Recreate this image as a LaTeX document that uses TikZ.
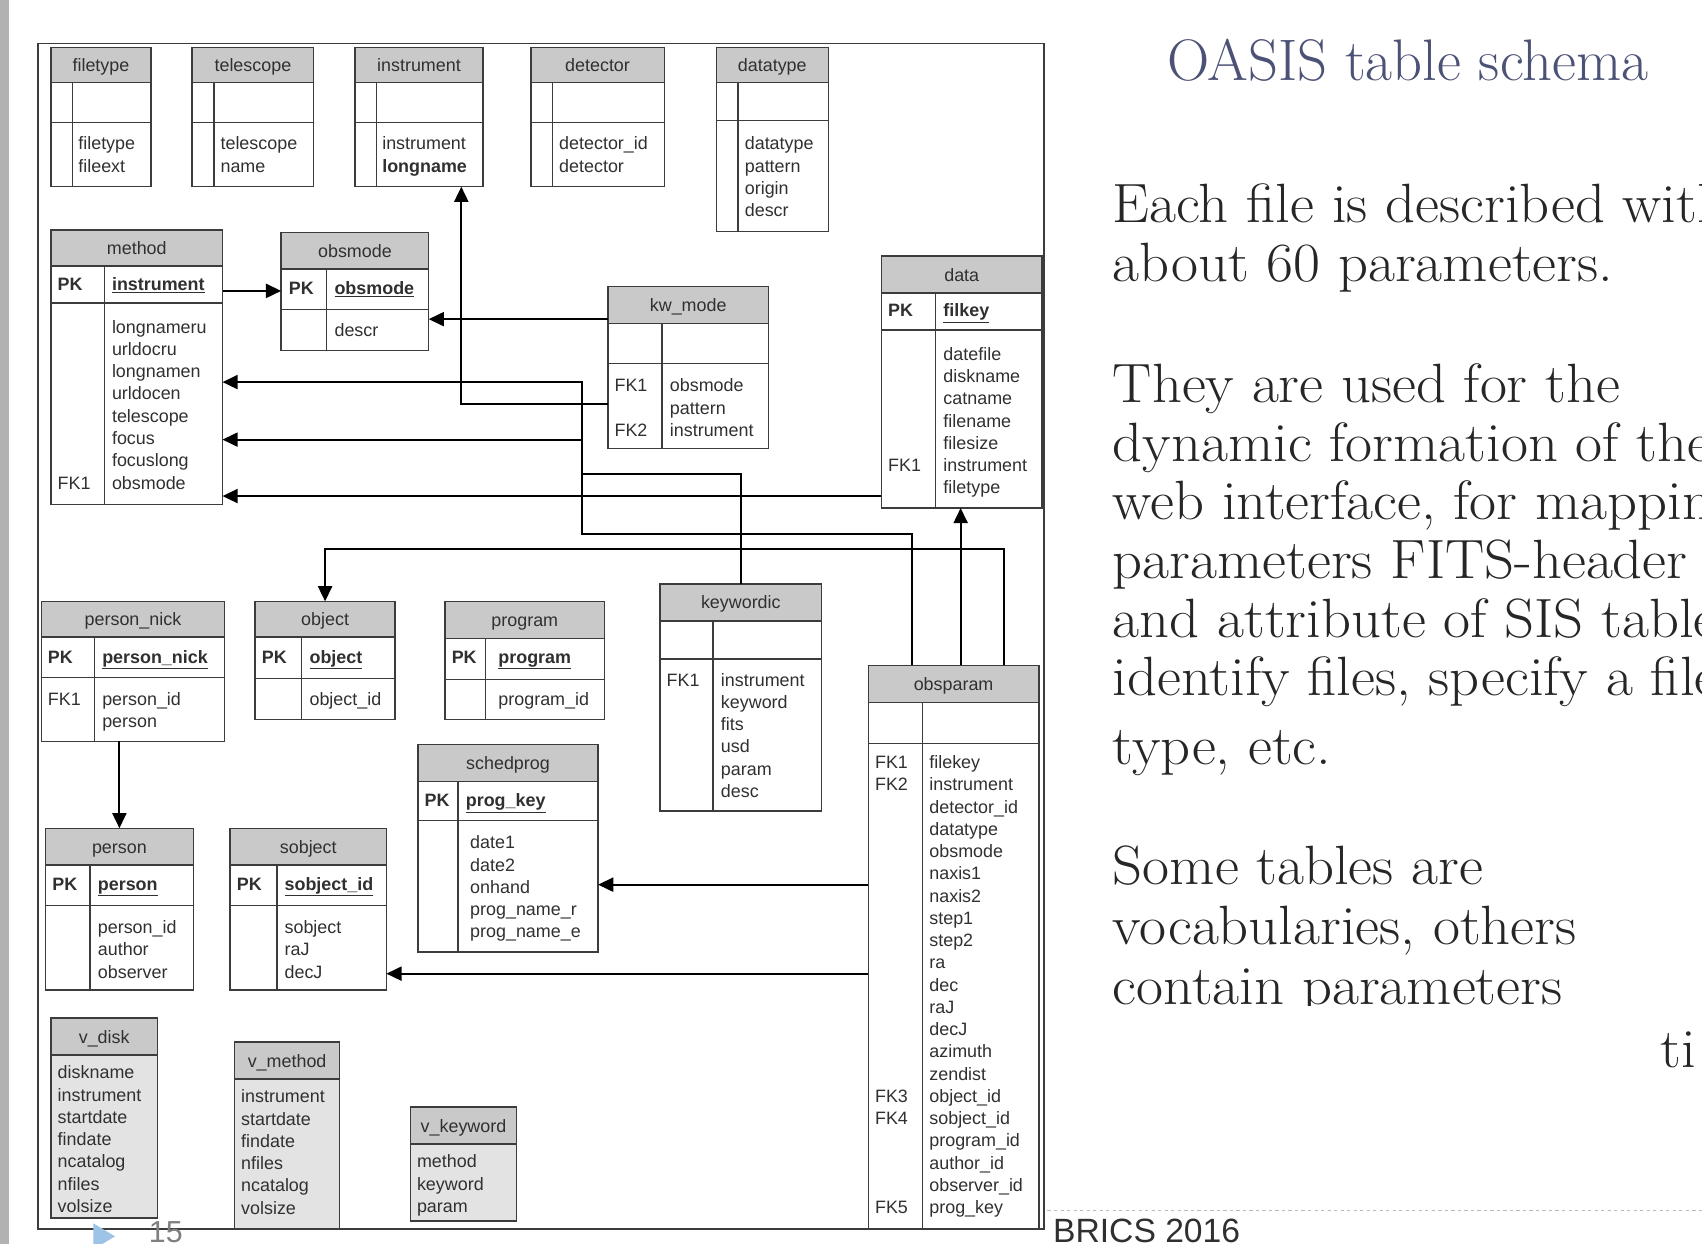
\documentclass[tikz,border=0pt]{standalone}
\usepackage{fontspec}
\newfontfamily\tabfont{Liberation Sans}
\usetikzlibrary{arrows.meta}
\definecolor{hdrgray}{HTML}{C9C9C9}
\definecolor{viewgray}{HTML}{E3E3E3}
\definecolor{linegray}{HTML}{3C3C3C}
\definecolor{txtgray}{HTML}{303030}
\definecolor{titleblue}{HTML}{4B5275}
\definecolor{tricol}{HTML}{9DC3E6}
\tikzset{
 tbl/.style={draw=linegray, line width=1.3pt, inner sep=0pt, outer sep=0pt},
 rowline/.style={draw=linegray, line width=1.3pt},
 ttl/.style={font=\tabfont\fontsize{16.5}{19}\selectfont, text=txtgray, inner sep=0pt, anchor=base},
 fld/.style={font=\tabfont\fontsize{16.5}{19}\selectfont, text=txtgray, inner sep=0pt, anchor=base west},
 keyb/.style={fld, font=\tabfont\bfseries\fontsize{16.5}{19}\selectfont},
 conn/.style={draw=black, line width=1.8pt},
 arr/.style={conn, -{Triangle[length=14pt,width=13pt]}},
 bodytext/.style={font=\fontsize{51}{54}\selectfont, inner sep=0pt, anchor=base west, text=black!85},
}
\newcommand\wide[1]{\scalebox{1.06}[1]{#1}}
% name, x1, y1, x2, y2, header bottom, key row bottom, divider x, title
\newcommand\ertab[9]{%
 \fill[hdrgray] (#2,#3) rectangle (#4,#6);
 \node[tbl, minimum width={(#4-#2)*1pt}, minimum height={(#5-#3)*1pt}] (#1) at ({(#2+#4)/2},{(#3+#5)/2}) {};
 \draw[rowline] (#2,#6) -- (#4,#6) (#2,#7) -- (#4,#7) (#8,#6) -- (#8,#5);
 \node[ttl] (#1-t) at ({(#2+#4)/2},{(#3+#6)/2+6}) {#9};
}
% name, x1, y1, x2, y2, header bottom, title
\newcommand\vwtab[7]{%
 \fill[viewgray] (#2,#6) rectangle (#4,#5);
 \fill[hdrgray] (#2,#3) rectangle (#4,#6);
 \node[tbl, minimum width={(#4-#2)*1pt}, minimum height={(#5-#3)*1pt}] (#1) at ({(#2+#4)/2},{(#3+#5)/2}) {};
 \draw[rowline] (#2,#6) -- (#4,#6);
 \node[ttl] (#1-t) at ({(#2+#4)/2},{(#3+#6)/2+6}) {#7};
}
% name prefix, x, first baseline, list
\newcommand\rows[4]{%
 \foreach \t [count=\i from 0] in {#4} {\node[fld] (#1-\i) at (#2,{#3+\i*20.5}) {\t};}
}
\begin{document}
\begin{tikzpicture}[x=1pt,y=-1pt]
\useasboundingbox (0,0) rectangle (1568,1146);
\fill[white] (0,0) rectangle (1568,1146);
\fill[gray!60] (0,0) rectangle (8,1146);
% frame
\draw[linegray, line width=1.5pt] (35,40) rectangle (962,1132);

% top row
\ertab{filetype}{47}{44}{139}{172}{76}{113}{67}{filetype}
\rows{filetype-f}{72}{138}{filetype,fileext}
\ertab{telescope}{177}{44}{289}{172}{76}{113}{197}{telescope}
\rows{telescope-f}{203}{138}{telescope,name}
\ertab{instrument}{327}{44}{445}{172}{76}{113}{347}{instrument}
\rows{instrument-f}{352}{138}{instrument,\textbf{longname}}
\ertab{detector}{489}{44}{612}{172}{76}{113}{509}{detector}
\rows{detector-f}{515}{138}{detector\_id,detector}
\ertab{datatype}{660}{44}{763}{213}{76}{111}{680}{datatype}
\rows{datatype-f}{686}{138}{datatype,pattern,origin,descr}

% method
\ertab{method}{47}{212}{205}{465}{245}{279}{96}{method}
\node[keyb] (method-pk) at (53,268) {PK};
\node[keyb] (method-pkf) at (103,268) {\underline{instrument}};
\rows{method-f}{103}{307}{longnameru,urldocru,longnamen,urldocen,telescope,focus,focuslong,obsmode}
\node[fld] (method-fk1) at (53,451) {FK1};

% obsmode
\ertab{obsmode}{259}{214}{395}{323}{248}{285}{301}{obsmode}
\node[keyb] (obsmode-pk) at (266,271) {PK};
\node[keyb] (obsmode-pkf) at (308,271) {\underline{obsmode}};
\node[fld] (obsmode-f0) at (308,310) {descr};

% kw_mode
\ertab{kwmode}{560}{264}{708}{413}{298}{335}{610}{kw\_mode}
\rows{kwmode-f}{617}{361}{obsmode,pattern,instrument}
\node[fld] (kwmode-fk1) at (566,361) {FK1};
\node[fld] (kwmode-fk2) at (566,402) {FK2};

% data
\ertab{data}{812}{236}{960}{468}{270}{304}{862}{data}
\node[keyb] (data-pk) at (818,292) {PK};
\node[keyb] (data-pkf) at (869,292) {\underline{filkey}};
\rows{data-f}{869}{332}{datefile,diskname,catname,filename,filesize,instrument,filetype}
\node[fld] (data-fk1) at (818,434.5) {FK1};

% person_nick
\ertab{personnick}{38}{554}{207}{683}{587}{624}{87}{person\_nick}
\node[keyb] (personnick-pk) at (44,611) {PK};
\node[keyb] (personnick-pkf) at (94,611) {\underline{person\_nick}};
\rows{personnick-f}{94}{650}{person\_id,person}
\node[fld] (personnick-fk1) at (44,650) {FK1};

% object
\ertab{object}{235}{554}{364}{663}{587}{625}{278}{object}
\node[keyb] (object-pk) at (241,611) {PK};
\node[keyb] (object-pkf) at (285,611) {\underline{object}};
\node[fld] (object-f0) at (285,650) {object\_id};

% program
\ertab{program}{410}{554}{557}{663}{588}{626}{447}{program}
\node[keyb] (program-pk) at (416,611) {PK};
\node[keyb] (program-pkf) at (459,611) {\underline{program}};
\node[fld] (program-f0) at (459,650) {program\_id};

% keywordic
\ertab{keywordic}{608}{538}{757}{747}{572}{607}{657}{keywordic}
\rows{keywordic-f}{664}{632}{instrument,keyword,fits,usd,param,desc}
\node[fld] (keywordic-fk1) at (614,632) {FK1};

% obsparam
\ertab{obsparam}{800}{613}{957}{1132}{647}{685}{850}{obsparam}
\rows{obsparam-f}{856}{708}{filekey,instrument,detector\_id,datatype,obsmode,naxis1,naxis2,step1,step2,ra,dec,raJ,decJ,azimuth,zendist,object\_id,sobject\_id,program\_id,author\_id,observer\_id,prog\_key}
\node[fld] (obsparam-fk1) at (806,708) {FK1};
\node[fld] (obsparam-fk2) at (806,728.5) {FK2};
\node[fld] (obsparam-fk3) at (806,1015.5) {FK3};
\node[fld] (obsparam-fk4) at (806,1036) {FK4};
\node[fld] (obsparam-fk5) at (806,1118) {FK5};

% schedprog
\ertab{schedprog}{385}{686}{551}{877}{720}{756}{422}{schedprog}
\node[keyb] (schedprog-pk) at (391,743) {PK};
\node[keyb] (schedprog-pkf) at (429,743) {\underline{prog\_key}};
\rows{schedprog-f}{433}{782}{date1,date2,onhand,prog\_name\_r,prog\_name\_e}

% person
\ertab{person}{42}{763}{178}{912}{797}{834}{83}{person}
\node[keyb] (person-pk) at (48,820) {PK};
\node[keyb] (person-pkf) at (90,820) {\underline{person}};
\rows{person-f}{90}{860}{person\_id,author,observer}

% sobject
\ertab{sobject}{212}{763}{356}{912}{797}{834}{255}{sobject}
\node[keyb] (sobject-pk) at (218,820) {PK};
\node[keyb] (sobject-pkf) at (262,820) {\underline{sobject\_id}};
\rows{sobject-f}{262}{860}{sobject,raJ,decJ}

% views
\vwtab{vdisk}{47}{938}{145}{1122}{972}{v\_disk}
\rows{vdisk-f}{53}{994}{diskname,instrument,startdate,findate,ncatalog,nfiles,volsize}
\vwtab{vmethod}{216}{960}{313}{1132}{994}{v\_method}
\rows{vmethod-f}{222}{1016}{instrument,startdate,findate,nfiles,ncatalog,volsize}
\vwtab{vkeyword}{378}{1020}{476}{1125}{1054}{v\_keyword}
\rows{vkeyword-f}{384}{1076}{method,keyword,param}

% connectors
\coordinate (j1) at (425,372);
\coordinate (j2) at (536,352);
\coordinate (j3) at (536,492);
\coordinate (j4) at (840,492);
\coordinate (j5) at (536,405);
\coordinate (j6) at (682.5,437);
\coordinate (j7) at (925,506);
\coordinate (j8) at (885,550);
\coordinate (j9) at (110,720);
\draw[arr] (method.east |- 0,268) -- (obsmode.west |- 0,268);
\draw[arr] (kwmode.west |- 0,294) -- (obsmode.east |- 0,294);
\draw[arr] (kwmode.west |- j1) -- (j1) -- (j1 |- instrument.south);
\draw[arr] (obsparam.north -| j4) -- (j4) -- (j3) -- (j2) -- (j2 -| method.east);
\draw[arr] (j5) -- (j5 -| method.east);
\draw[conn] (keywordic.north) -- (j6) -- (j6 -| j2);
\draw[arr] (data.west |- 0,457) -- (method.east |- 0,457);
\draw[arr] (obsparam.north -| j7) -- (j7) -- (j7 -| object.north) -- (object.north);
\draw[arr] (obsparam.north -| j8) -- (data.south -| j8);
\draw[arr] (obsparam.west |- 0,815) -- (schedprog.east |- 0,815);
\draw[arr] (obsparam.west |- 0,897) -- (sobject.east |- 0,897);
\draw[arr] (personnick.south -| j9) -- (person.north -| j9);

% right-hand text
\node[font=\fontsize{54}{58}\selectfont, text=titleblue, inner sep=0pt, anchor=base west] (title) at (1075,74) {OASIS table schema};
\begin{scope}
\clip (965,0) rectangle (1568,926);
\node[bodytext] (l1) at (1025,205) {\wide{Each file is described with}};
\node[bodytext] (l2) at (1025,259) {\wide{about 60 parameters.}};
\node[bodytext] (l3) at (1025,371) {\wide{They are used for the}};
\node[bodytext] (l4) at (1025,425) {\wide{dynamic formation of the}};
\node[bodytext] (l5) at (1025,479) {\wide{web interface, for mapping}};
\node[bodytext] (l6) at (1025,533) {\wide{parameters FITS-header}};
\node[bodytext] (l7) at (1025,587) {\wide{and attribute of SIS tables}};
\node[bodytext] (l8) at (1025,641) {\wide{identify files, specify a file}};
\node[bodytext] (l9) at (1025,704) {\wide{type, etc.}};
\node[bodytext] (l10) at (1025,815) {\wide{Some tables are}};
\node[bodytext] (l11) at (1025,870) {\wide{vocabularies, others}};
\node[bodytext] (l12) at (1025,925) {\wide{contain parameters}};
\end{scope}
\begin{scope}
\clip (1530,930) rectangle (1568,1000);
\node[bodytext] (frag) at (1505,983) {\wide{ati}};
\end{scope}

% footer
\draw[gray!55, dashed, line width=1pt] (965,1115) -- (1568,1115);
\fill[tricol] (86,1127) -- (106,1139) -- (86,1151) -- cycle;
\node[font=\tabfont\fontsize{28}{32}\selectfont, text=gray, inner sep=0pt, anchor=base west] (pagenum) at (137,1145) {15};
\node[font=\tabfont\fontsize{31}{34}\selectfont, text=txtgray, inner sep=0pt, anchor=base west] (brics) at (970,1145) {BRICS 2016};
\end{tikzpicture}
\end{document}
